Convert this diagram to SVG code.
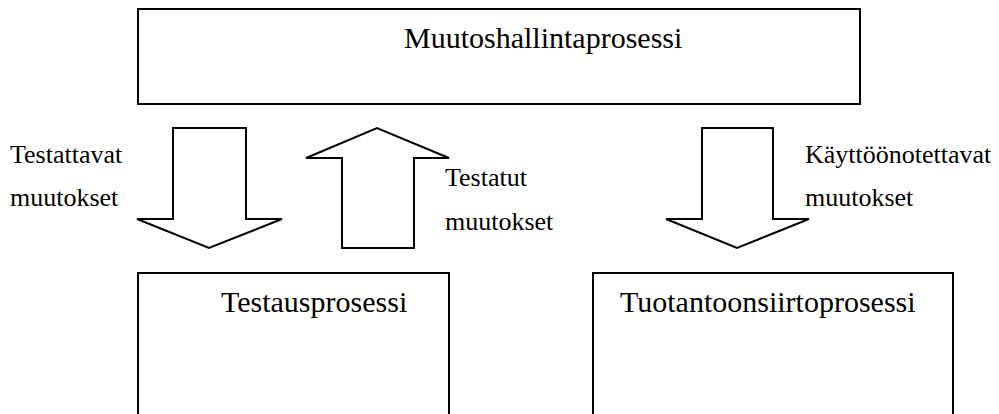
<svg xmlns="http://www.w3.org/2000/svg" width="999" height="414" viewBox="0 0 999 414">
  <style>
    .box { fill: #ffffff; stroke: #000000; stroke-width: 2; }
    .arrow { fill: #ffffff; stroke: #000000; stroke-width: 2; stroke-linejoin: miter; }
    .label { font-family: "Liberation Serif", "Times New Roman", serif; fill: #000000; }
    .big { font-size: 30px; }
    .small { font-size: 26px; }
  </style>
  <rect width="999" height="414" fill="#ffffff"/>

  <!-- process boxes -->
  <g id="muutoshallinta">
    <rect class="box" x="138" y="9" width="722" height="95"/>
    <text class="label big" x="404" y="48">Muutoshallintaprosessi</text>
  </g>
  <g id="testaus">
    <rect class="box" x="138" y="273" width="311" height="160"/>
    <text class="label big" x="221" y="312">Testausprosessi</text>
  </g>
  <g id="tuotantoonsiirto">
    <rect class="box" x="593" y="273" width="360" height="160"/>
    <text class="label big" x="620" y="312">Tuotantoonsiirtoprosessi</text>
  </g>

  <!-- block arrows between processes -->
  <g id="connectors">
    <g id="testattavat">
      <polygon class="arrow" points="173,128 246,128 246,219 282,219 209,248 137,219 173,219"/>
      <text class="label small" x="10" y="163">Testattavat</text>
      <text class="label small" x="10" y="206">muutokset</text>
    </g>
    <g id="testatut">
      <polygon class="arrow" points="342,248 414,248 414,158 449,158 377,128 306,158 342,158"/>
      <text class="label small" x="445" y="186">Testatut</text>
      <text class="label small" x="445" y="230">muutokset</text>
    </g>
    <g id="kayttoonotettavat">
      <polygon class="arrow" points="702,128 773,128 773,219 809,219 737,248 666,219 702,219"/>
      <text class="label small" x="805" y="163">Käyttöönotettavat</text>
      <text class="label small" x="805" y="206">muutokset</text>
    </g>
  </g>
</svg>
